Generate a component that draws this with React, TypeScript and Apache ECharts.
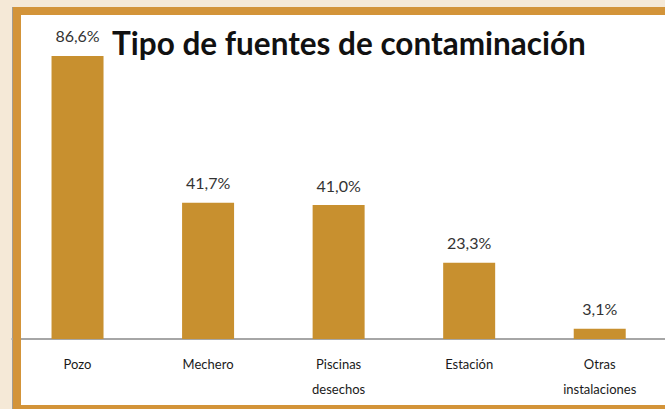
import React, { useEffect, useRef } from "react";
import * as echarts from "echarts";

const categories = ["Pozo", "Mechero", "Piscinas\ndesechos", "Estación", "Otras\ninstalaciones"];
const values = [86.6, 41.7, 41.0, 23.3, 3.1];
const titleText = "Tipo de fuentes de contaminación";

export default function App() {
  const ref = useRef<HTMLDivElement>(null);
  useEffect(() => {
    if (!ref.current) return;
    const chart = echarts.init(ref.current, null, { renderer: "svg" });
    chart.setOption({
      animation: false,
      backgroundColor: "#f5e9d7",
      textStyle: { fontFamily: "Lato" },
      graphic: [
        { type: "rect", z: -10, shape: { x: 12, y: 7, width: 1, height: 402 }, style: { fill: "#a49c90" } },
        { type: "rect", z: -10, shape: { x: 13, y: 7, width: 660, height: 402 }, style: { fill: "#d39439" } },
        { type: "rect", z: -9, shape: { x: 21, y: 15, width: 660, height: 390 }, style: { fill: "#ffffff" } },
        { type: "rect", z: 100, shape: { x: 13, y: 7, width: 8, height: 402 }, style: { fill: "#d39439" } },
        {
          type: "text",
          z: 50,
          left: 112,
          top: 27,
          style: {
            text: titleText,
            fontFamily: "Lato",
            fontWeight: "bold",
            fontSize: 31.5,
            fill: "#111111",
          },
        },
      ],
      grid: { left: 12.25, right: -4.75, top: 12.2, bottom: 70, containLabel: false },
      xAxis: {
        type: "category",
        data: categories,
        axisLine: { show: true, lineStyle: { color: "#a6a6a6", width: 2 } },
        axisTick: { show: false },
        axisLabel: {
          interval: 0,
          margin: 12,
          fontSize: 13,
          lineHeight: 25,
          color: "#1a1a1a",
          fontFamily: "Lato",
        },
      },
      yAxis: {
        type: "value",
        min: 0,
        max: 100,
        show: false,
        splitLine: { show: false },
      },
      series: [
        {
          type: "bar",
          data: values,
          barWidth: 52,
          itemStyle: { color: "#c8902f" },
          label: {
            show: true,
            position: "top",
            distance: 12,
            fontSize: 16,
            color: "#333333",
            fontFamily: "Lato",
            formatter: (p: any) => p.value.toFixed(1).replace(".", ",") + "%",
          },
        },
      ],
    });
    return () => chart.dispose();
  }, []);
  return <div ref={ref} style={{ position: "absolute", left: 0, top: 0, width: 665, height: 409 }} />;
}
